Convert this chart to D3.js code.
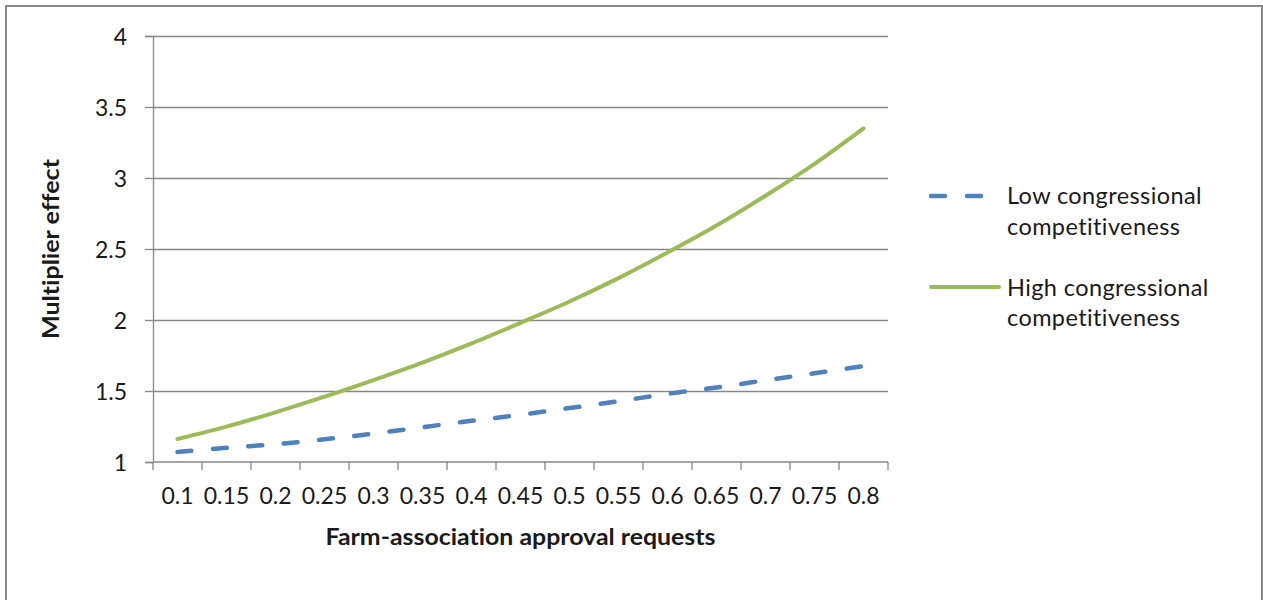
<!DOCTYPE html>
<html>
<head>
<meta charset="utf-8">
<script src="https://cdn.jsdelivr.net/npm/d3@7"></script>
<style>
  html, body { margin: 0; padding: 0; background: #fff; }
  svg { display: block; }
  text { font-family: Lato, "Open Sans", sans-serif; fill: #1a1a1a; font-variant-ligatures: none; font-feature-settings: "liga" 0; }
</style>
</head>
<body>
<svg id="chart" width="1263" height="600"></svg>
<script>
// ---- data ----
const categories = ["0.1","0.15","0.2","0.25","0.3","0.35","0.4","0.45","0.5","0.55","0.6","0.65","0.7","0.75","0.8"];
const lowValues  = [1.07, 1.10, 1.125, 1.16, 1.20, 1.245, 1.29, 1.333, 1.38, 1.428, 1.48, 1.525, 1.575, 1.625, 1.675];
const highValues = [1.162, 1.249, 1.35, 1.46, 1.577, 1.70, 1.835, 1.98, 2.13, 2.295, 2.475, 2.665, 2.875, 3.10, 3.35];
const yTickValues = [1, 1.5, 2, 2.5, 3, 3.5, 4];
const seriesNames = [["Low congressional", "competitiveness"], ["High congressional", "competitiveness"]];
const xTitle = "Farm-association approval requests";
const yTitle = "Multiplier effect";

// ---- layout ----
const svg = d3.select("#chart");
const plot = { left: 153, right: 888, top: 36, bottom: 462 };
const axisColor = "#878787";
const blue = "#4F81BD", green = "#9BBB59";

// outer border
svg.append("rect")
  .attr("x", 6).attr("y", 6).attr("width", 1256).attr("height", 600)
  .attr("fill", "#fff").attr("stroke", "#878787").attr("stroke-width", 2);

const x = d3.scaleBand().domain(categories).range([plot.left, plot.right]).padding(0);
const y = d3.scaleLinear().domain([1, 4]).range([plot.bottom, plot.top]);
const cx = c => x(c) + x.bandwidth() / 2;

// gridlines + y axis
const yAxis = d3.axisLeft(y)
  .tickValues(yTickValues)
  .tickSize(8)
  .tickPadding(18)
  .tickFormat(d => d3.format("")(d));
const gy = svg.append("g").attr("transform", `translate(${plot.left},0)`).call(yAxis);
gy.select(".domain").attr("stroke", axisColor).attr("stroke-width", 1.3);
gy.selectAll(".tick line").attr("stroke", axisColor).attr("stroke-width", 1.3);
gy.selectAll(".tick text")
  .attr("font-size", 23).attr("dy", "0.36em").attr("fill", "#1a1a1a")
  .style("font-family", "Lato, sans-serif");
gy.selectAll(".tick").filter(d => d !== 1)
  .append("line")
  .attr("x1", 0).attr("x2", plot.right - plot.left)
  .attr("stroke", axisColor).attr("stroke-width", 1.3);

// x axis
const xAxis = d3.axisBottom(x).tickSize(0).tickPadding(0);
const gx = svg.append("g").attr("transform", `translate(0,${plot.bottom})`).call(xAxis);
gx.select(".domain").remove();
gx.selectAll(".tick text")
  .attr("font-size", 23).attr("y", 42).attr("dy", 0).attr("fill", "#1a1a1a")
  .style("font-family", "Lato, sans-serif");
svg.append("line")
  .attr("x1", plot.left).attr("x2", plot.right)
  .attr("y1", plot.bottom).attr("y2", plot.bottom)
  .attr("stroke", axisColor).attr("stroke-width", 1.3);
const edges = categories.map(c => x(c)).concat([x.range()[1]]);
svg.append("g").selectAll("line").data(edges).join("line")
  .attr("x1", d => d).attr("x2", d => d)
  .attr("y1", plot.bottom).attr("y2", plot.bottom + 8)
  .attr("stroke", axisColor).attr("stroke-width", 1.3);

// lines
const line = d3.line()
  .x((d, i) => cx(categories[i]))
  .y(d => y(d))
  .curve(d3.curveCatmullRom.alpha(0.5));

svg.append("path").datum(lowValues)
  .attr("d", line).attr("fill", "none")
  .attr("stroke", blue).attr("stroke-width", 4.5)
  .attr("stroke-dasharray", "14,21.5").attr("stroke-linecap", "round");

svg.append("path").datum(highValues)
  .attr("d", line).attr("fill", "none")
  .attr("stroke", green).attr("stroke-width", 4)
  .attr("stroke-linecap", "round");

// axis titles
svg.append("text")
  .attr("x", (plot.left + plot.right) / 2).attr("y", 545)
  .attr("text-anchor", "middle").attr("font-size", 22).attr("font-weight", "bold")
  .attr("fill", "#000")
  .attr("textLength", 390).attr("lengthAdjust", "spacingAndGlyphs")
  .text(xTitle);

svg.append("text")
  .attr("transform", `translate(59,${(plot.top + plot.bottom) / 2}) rotate(-90)`)
  .attr("text-anchor", "middle").attr("font-size", 22).attr("font-weight", "bold")
  .attr("fill", "#000")
  .attr("textLength", 180).attr("lengthAdjust", "spacingAndGlyphs")
  .text(yTitle);

// legend
const legend = svg.append("g");
const legendItems = [
  { name: seriesNames[0], color: blue, dash: "14,22", width: 4.5, ly: 196, by: [204, 234.5] },
  { name: seriesNames[1], color: green, dash: null, width: 4, ly: 287, by: [296, 326] }
];
legendItems.forEach(it => {
  legend.append("line")
    .attr("x1", 931).attr("x2", 999)
    .attr("y1", it.ly).attr("y2", it.ly)
    .attr("stroke", it.color).attr("stroke-width", it.width)
    .attr("stroke-linecap", "round")
    .attr("stroke-dasharray", it.dash);
  it.name.forEach((t, k) => {
    legend.append("text")
      .attr("x", 1007).attr("y", it.by[k])
      .attr("font-size", 23.5).attr("letter-spacing", 0.4)
      .text(t);
  });
});
</script>
</body>
</html>
